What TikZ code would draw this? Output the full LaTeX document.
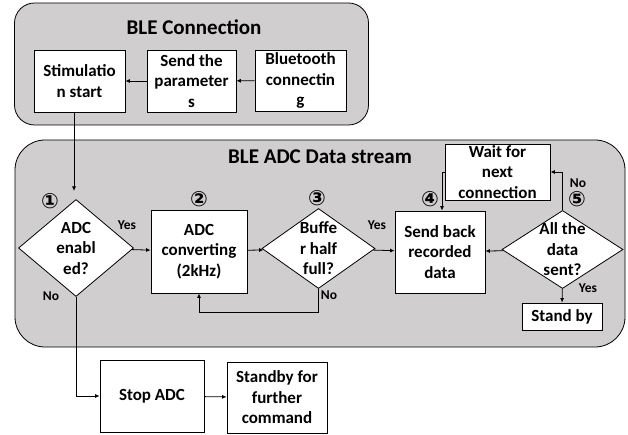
\documentclass[tikz,border=0pt]{standalone}
\usepackage{fontspec}
\setmainfont{Carlito}
\newfontfamily\circfont{DejaVu Sans}
\usetikzlibrary{shapes.geometric}
\usetikzlibrary{arrows.meta}
\definecolor{panelgray}{HTML}{D0CECE}
\newcommand\bodyfont{\fontsize{17}{20.5}\selectfont\bfseries}
\newcommand\ansfont{\fontsize{13.5}{16}\selectfont\bfseries}
\tikzset{every edge/.style={draw}, >={Latex[length=4.5pt,width=4pt]}}
\tikzset{
  panel/.style={draw, fill=panelgray, rounded corners=#1, inner sep=0pt},
  panel/.default=20pt,
  box/.style={draw, fill=white, inner sep=0pt, align=center, font=\bodyfont},
  decision/.style={draw, fill=white, diamond, inner sep=0pt},
  dtext/.style={align=center, font=\bodyfont, inner sep=0pt},
  ttl/.style={font=\fontsize{21}{24}\selectfont\bfseries},
  ans/.style={font=\ansfont, inner sep=0pt},
  num/.style={font=\fontsize{21}{21}\selectfont\circfont\bfseries, inner sep=0pt},
}

\begin{document}
\begin{tikzpicture}[x=1pt, y=-1pt, line width=0.8pt]   % stimulation flow
    \useasboundingbox (0,0) rectangle (628,435);

    \node[panel, minimum width=354, minimum height=122] at (191.5, 64) (bleconn) {};
    \node[panel=30pt, minimum width=610, minimum height=207] at (320, 243.5) (adcstream) {};
    \node[ttl] at (194, 27) (conntitle) {BLE Connection};
    \node[ttl] at (320, 157) (streamtitle) {BLE ADC Data stream};

    \node[box, minimum width=91, minimum height=62] at (79.5, 81) (stim) {Stimulatio\\n start};
    \node[box, minimum width=89, minimum height=62] at (191.5, 81) (param) {Send the\\parameter\\s};
    \node[box, minimum width=91, minimum height=61] at (300.5, 80.5) (blue) {Bluetooth\\connectin\\g};

    \node[decision, minimum width=115, minimum height=97, label={[dtext]center:{ADC\\enabl\\ed?}}] at (76, 248) (enabled) {};
    \node[box, minimum width=96, minimum height=83] at (199, 251.5) (conv) {ADC\\converting\\(2kHz)};
    \node[decision, minimum width=113, minimum height=80, label={[dtext]center:{Buffe\\r half\\full?}}] at (318.5, 248.5) (buffer) {};
    \node[box, minimum width=90, minimum height=82] at (440, 252) (sendback) {Send back\\recorded\\data};
    \node[box, minimum width=105, minimum height=56] at (497.5, 172) (wait) {Wait for\\next\\connection};
    \node[decision, minimum width=121, minimum height=78, label={[dtext]center:{All the\\data\\sent?}}] at (562.5, 249.5) (allsent) {};
    \node[box, minimum width=80, minimum height=27] at (562, 316.5) (standby) {Stand by};

    \node[box, minimum width=104, minimum height=72] at (152, 396) (stop) {Stop ADC};
    \node[box, minimum width=100, minimum height=71] at (277, 397.5) (further) {Standby for\\further\\command};

    \node[num] at (50, 201) (n1) {①};
    \node[num] at (199, 199) (n2) {②};
    \node[num] at (317, 198) (n3) {③};
    \node[num] at (430, 199) (n4) {④};
    \node[num] at (577, 199) (n5) {⑤};

    \coordinate (d1in) at (74, 191);
    \draw (blue) edge[->] (param);
    \draw (param) edge[->] (stim);
    \draw[->] (stim.south -| d1in) -- (d1in);

    \draw (enabled) edge[->] (conv);
    \node[ans] at (127, 225) (y1) {Yes};
    \draw (conv) edge[->] (buffer);
    \draw (buffer) edge[->] (sendback);
    \node[ans] at (377, 225) (y3) {Yes};
    \draw[->] (buffer.south) -- ++(0, 23.5) -| (conv.south);
    \node[ans] at (329, 295) (n3no) {No};
    \draw[->] (wait.west) -| ([xshift=2pt]sendback.north);
    \draw[->] (allsent.north) |- (wait.east);
    \node[ans] at (578, 183) (n5no) {No};
    \draw (allsent) edge[->] (sendback);
    \draw (allsent) edge[->] (standby);
    \node[ans] at (588, 288) (y5) {Yes};

    \draw[->] (enabled.south) |- (stop.west);
    \node[ans] at (51, 296) (n1no) {No};
    \draw (stop) edge[->] (further);
\end{tikzpicture}
\end{document}
